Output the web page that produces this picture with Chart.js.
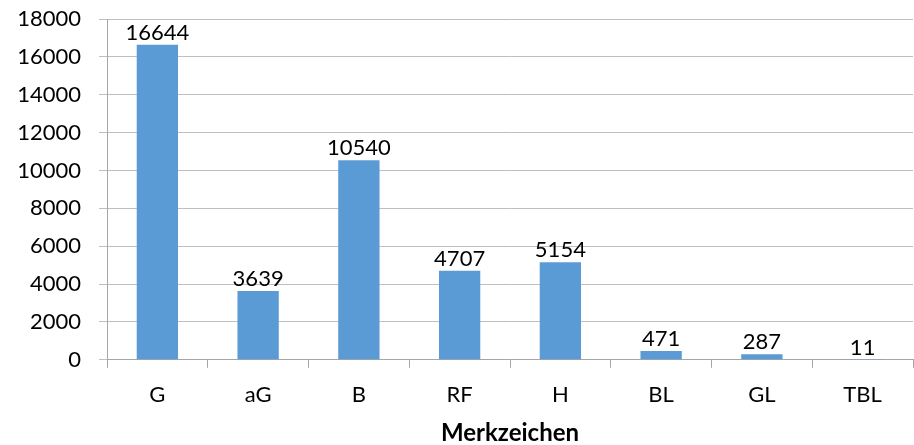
<!DOCTYPE html>
<html>
<head>
<meta charset="utf-8">
<script src="https://cdn.jsdelivr.net/npm/chart.js@4"></script>
<style>
  html, body { margin: 0; padding: 0; background: #fff; }
  #wrap { width: 914px; height: 445px; }
</style>
</head>
<body>
<div id="wrap"><canvas id="merkChart"></canvas></div>
<script>
// Merkzeichen counts
const categories = ['G', 'aG', 'B', 'RF', 'H', 'BL', 'GL', 'TBL'];
const counts = [16644, 3639, 10540, 4707, 5154, 471, 287, 11];
const yMax = 18000;
const yStep = 2000;

const fontFamily = 'Lato, "Open Sans", sans-serif';

// draws the value above each bar
const valueLabels = {
    id: 'valueLabels',
    afterDatasetsDraw(chart) {
        const ctx = chart.ctx;
        const meta = chart.getDatasetMeta(0);
        ctx.save();
        ctx.font = '22px ' + fontFamily;
        ctx.fillStyle = '#000';
        ctx.textAlign = 'center';
        ctx.textBaseline = 'alphabetic';
        meta.data.forEach(function (bar, i) {
            ctx.fillText(String(counts[i]), bar.x, bar.y - 5);
        });
        ctx.restore();
    }
};

new Chart(document.getElementById('merkChart').getContext('2d'), {
    type: 'bar',
    data: {
        labels: categories,
        datasets: [{
            data: counts,
            backgroundColor: '#5b9bd5',
            barPercentage: 0.41,
            categoryPercentage: 1
        }]
    },
    options: {
        responsive: true,
        maintainAspectRatio: false,
        animation: false,
        layout: { padding: { left: 16, right: 1, top: 19, bottom: -3 } },
        plugins: {
            legend: { display: false },
            tooltip: { enabled: false }
        },
        scales: {
            x: {
                grid: {
                    drawOnChartArea: false,
                    drawTicks: true,
                    tickLength: 8,
                    color: '#a6a6a6'
                },
                border: { color: '#a6a6a6' },
                ticks: {
                    color: '#000',
                    padding: 14,
                    font: { family: fontFamily, size: 22 }
                },
                title: {
                    display: true,
                    text: 'Merkzeichen',
                    color: '#000',
                    padding: { top: -3, bottom: 0 },
                    font: { family: fontFamily, size: 24, weight: 'bold' }
                }
            },
            y: {
                min: 0,
                max: yMax,
                afterFit: function (scale) { scale.width = 91; },
                grid: {
                    color: '#bfbfbf',
                    // long tick so labels sit clear of the axis, only the last 8px drawn
                    tickLength: 26,
                    tickBorderDash: [0, 18, 8, 0]
                },
                border: { color: '#a6a6a6' },
                ticks: {
                    stepSize: yStep,
                    color: '#000',
                    padding: 0,
                    font: { family: fontFamily, size: 22 },
                    callback: function (v) { return String(v); }
                }
            }
        }
    },
    plugins: [valueLabels]
});
</script>
</body>
</html>
